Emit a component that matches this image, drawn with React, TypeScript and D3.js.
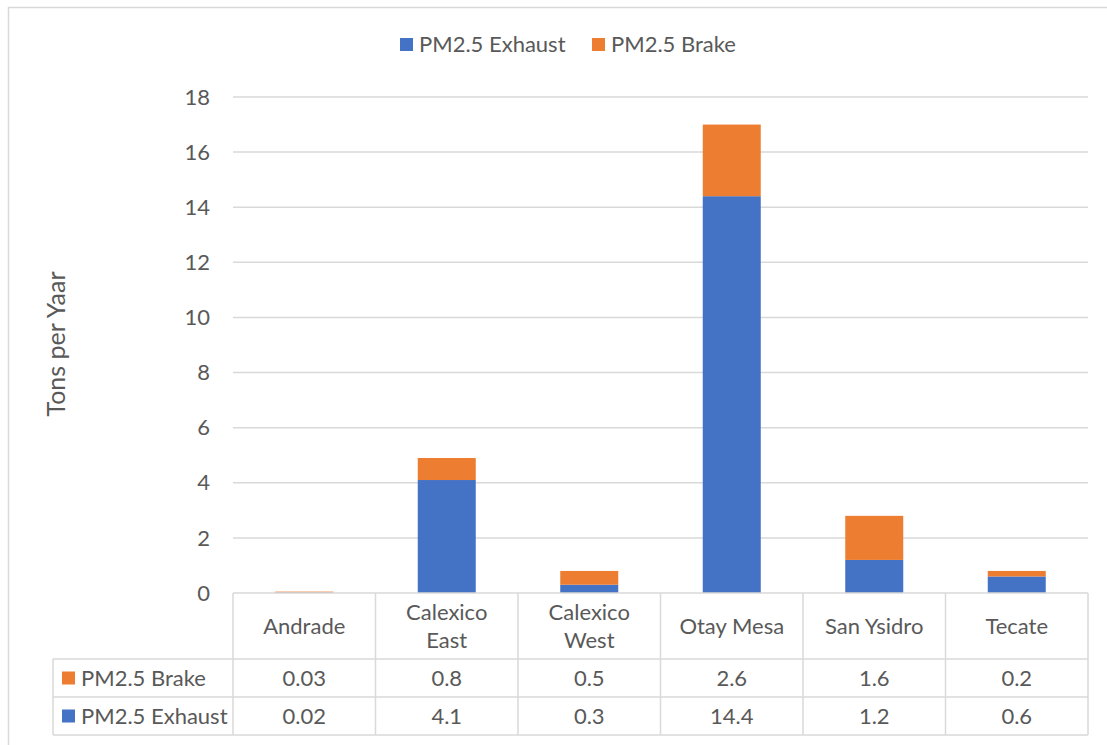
import React, { useEffect, useRef } from 'react';
import * as d3 from 'd3';

const categories = ['Andrade', 'Calexico East', 'Calexico West', 'Otay Mesa', 'San Ysidro', 'Tecate'];
const categoryLines = [['Andrade'], ['Calexico', 'East'], ['Calexico', 'West'], ['Otay Mesa'], ['San Ysidro'], ['Tecate']];
const exhaust = [0.02, 4.1, 0.3, 14.4, 1.2, 0.6];
const brake = [0.03, 0.8, 0.5, 2.6, 1.6, 0.2];
const yTicks = [0, 2, 4, 6, 8, 10, 12, 14, 16, 18];

const W = 1107;
const H = 745;
const FONT = 'Lato, "Noto Sans", sans-serif';
const FS = 22;
const TXT = '#595959';
const LINE = '#d9d9d9';
const BLUE = '#4472c4';
const ORANGE = '#ed7d31';

export default function App() {
    const ref = useRef<SVGSVGElement>(null);

    useEffect(() => {
        const svg = d3.select(ref.current);
        svg.selectAll('*').remove();

        const left = 233, right = 1088, top = 97, bottom = 593;
        const rowTops = [593, 659, 697, 735];
        const legendX = 53;

        const x = d3.scaleBand<string>().domain(categories).range([left, right]).paddingInner(0).paddingOuter(0);
        const y = d3.scaleLinear().domain([0, 18]).range([bottom, top]);
        const barW = 58;

        // chart frame
        svg.append('path')
            .attr('d', `M8.5,${H + 5} L8.5,7.5 L${W + 5},7.5`)
            .attr('fill', 'none').attr('stroke', LINE).attr('stroke-width', 1.5);

        // gridlines
        svg.append('g').selectAll('line')
            .data(yTicks.filter(t => t > 0))
            .enter().append('line')
            .attr('x1', left).attr('x2', right)
            .attr('y1', d => y(d)).attr('y2', d => y(d))
            .attr('stroke', LINE).attr('stroke-width', 1.5);

        // tick labels
        svg.append('g').selectAll('text')
            .data(yTicks)
            .enter().append('text')
            .attr('x', 210).attr('y', d => y(d))
            .attr('dy', '0.35em')
            .attr('text-anchor', 'end')
            .attr('font-family', FONT).attr('font-size', FS).attr('fill', TXT)
            .text(d => d);

        // y axis title
        svg.append('text')
            .attr('transform', `translate(65,344) rotate(-90)`)
            .attr('text-anchor', 'middle')
            .attr('font-family', FONT).attr('font-size', 25).attr('fill', TXT)
            .text('Tons per Yaar');

        // stacked bars
        const stacked = categories.map((c, i) => ({ c, e: exhaust[i], b: brake[i] }));
        const cx = (c: string) => (x(c) as number) + x.bandwidth() / 2;
        svg.append('g').selectAll('rect')
            .data(stacked)
            .enter().append('rect')
            .attr('x', d => cx(d.c) - barW / 2).attr('width', barW)
            .attr('y', d => y(d.e)).attr('height', d => y(0) - y(d.e))
            .attr('fill', BLUE);
        svg.append('g').selectAll('rect')
            .data(stacked)
            .enter().append('rect')
            .attr('x', d => cx(d.c) - barW / 2).attr('width', barW)
            .attr('y', d => y(d.e + d.b)).attr('height', d => y(d.e) - y(d.e + d.b))
            .attr('fill', ORANGE);

        // data table
        const t = svg.append('g').attr('stroke', LINE).attr('stroke-width', 1.5);
        t.append('line').attr('x1', left).attr('x2', right).attr('y1', rowTops[0]).attr('y2', rowTops[0]);
        rowTops.slice(1).forEach(ry => {
            t.append('line').attr('x1', legendX).attr('x2', right).attr('y1', ry).attr('y2', ry);
        });
        t.append('line').attr('x1', legendX).attr('x2', legendX).attr('y1', rowTops[1]).attr('y2', rowTops[3]);
        const colEdges = categories.map(c => x(c) as number).concat([right]);
        colEdges.forEach(cxE => {
            t.append('line').attr('x1', cxE).attr('x2', cxE).attr('y1', rowTops[0]).attr('y2', rowTops[3]);
        });

        // header labels
        const headerMid = (rowTops[0] + rowTops[1]) / 2;
        categories.forEach((c, i) => {
            const lines = categoryLines[i];
            const lh = 28;
            lines.forEach((ln, j) => {
                svg.append('text')
                    .attr('x', cx(c))
                    .attr('y', headerMid + (j - (lines.length - 1) / 2) * lh)
                    .attr('dy', '0.35em')
                    .attr('text-anchor', 'middle')
                    .attr('font-family', FONT).attr('font-size', FS).attr('fill', TXT)
                    .text(ln);
            });
        });

        // value rows
        const rows = [
            { name: 'PM2.5 Brake', color: ORANGE, values: brake },
            { name: 'PM2.5 Exhaust', color: BLUE, values: exhaust },
        ];
        rows.forEach((r, ri) => {
            const my = (rowTops[ri + 1] + rowTops[ri + 2]) / 2;
            svg.append('rect')
                .attr('x', 62).attr('y', my - 6.5).attr('width', 13).attr('height', 13)
                .attr('fill', r.color);
            svg.append('text')
                .attr('x', 81).attr('y', my).attr('dy', '0.35em')
                .attr('font-family', FONT).attr('font-size', FS).attr('fill', TXT)
                .text(r.name);
            r.values.forEach((v, i) => {
                svg.append('text')
                    .attr('x', cx(categories[i])).attr('y', my).attr('dy', '0.35em')
                    .attr('text-anchor', 'middle')
                    .attr('font-family', FONT).attr('font-size', FS).attr('fill', TXT)
                    .text(String(v));
            });
        });

        // legend
        const legend = [
            { name: 'PM2.5 Exhaust', color: BLUE, x: 400 },
            { name: 'PM2.5 Brake', color: ORANGE, x: 592 },
        ];
        legend.forEach(l => {
            svg.append('rect')
                .attr('x', l.x).attr('y', 38).attr('width', 13).attr('height', 13)
                .attr('fill', l.color);
            svg.append('text')
                .attr('x', l.x + 19).attr('y', 44.5).attr('dy', '0.35em')
                .attr('font-family', FONT).attr('font-size', FS).attr('fill', TXT)
                .text(l.name);
        });
    }, []);

    return (
        <svg
            ref={ref}
            width={W}
            height={H}
            style={{ position: 'absolute', left: 0, top: 0, background: '#fff' }}
        />
    );
}
